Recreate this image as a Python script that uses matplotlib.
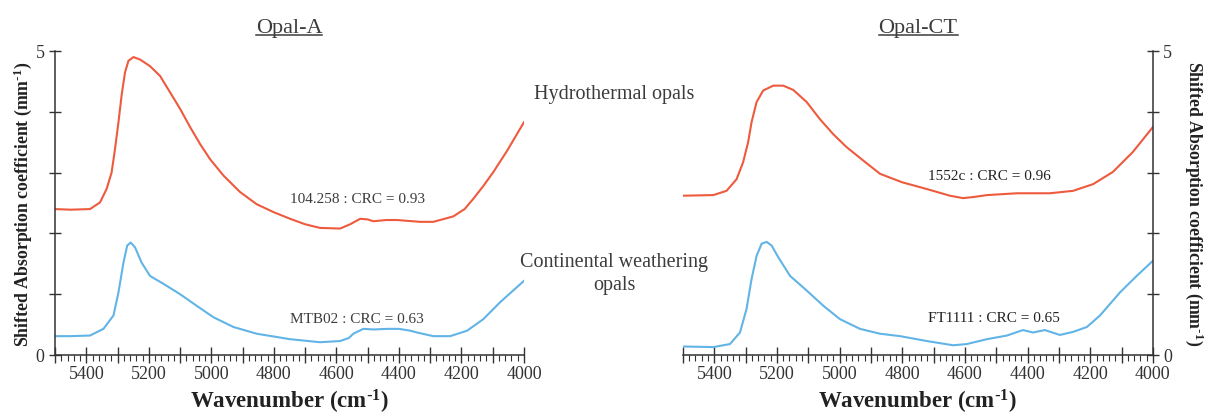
import matplotlib
matplotlib.use('Agg')
import matplotlib.pyplot as plt
from matplotlib.ticker import MultipleLocator, FuncFormatter
from matplotlib.lines import Line2D

# --- data (wavenumber in cm-1, shifted absorption in mm-1)
wn_hydro_A = [5500, 5450, 5388, 5356, 5335, 5319, 5308, 5297, 5287, 5276, 5265, 5249,
              5228, 5196, 5164, 5132, 5100, 5068, 5036, 5004, 4961, 4908, 4855, 4801,
              4748, 4700, 4652, 4588, 4556, 4524, 4500, 4482, 4440, 4406, 4332, 4290,
              4226, 4190, 4162, 4130, 4098, 4054, 4000]
abs_hydro_A = [2.40, 2.39, 2.40, 2.51, 2.73, 3.00, 3.39, 3.83, 4.27, 4.65, 4.84, 4.90,
               4.86, 4.75, 4.59, 4.32, 4.05, 3.75, 3.47, 3.22, 2.95, 2.68, 2.48, 2.35,
               2.24, 2.15, 2.09, 2.08, 2.15, 2.24, 2.23, 2.20, 2.22, 2.22, 2.19, 2.19,
               2.28, 2.40, 2.57, 2.78, 3.01, 3.36, 3.83]

wn_cont_A = [5500, 5450, 5388, 5345, 5313, 5297, 5281, 5269, 5258, 5244, 5223, 5196,
             5153, 5100, 5047, 4993, 4929, 4855, 4748, 4652, 4588, 4560, 4546, 4514,
             4480, 4438, 4400, 4364, 4342, 4290, 4236, 4182, 4130, 4076, 4000]
abs_cont_A = [0.31, 0.31, 0.32, 0.43, 0.65, 1.03, 1.52, 1.80, 1.85, 1.77, 1.52, 1.30,
              1.17, 1.00, 0.81, 0.62, 0.46, 0.35, 0.26, 0.21, 0.23, 0.28, 0.35, 0.43,
              0.42, 0.43, 0.43, 0.40, 0.37, 0.31, 0.31, 0.40, 0.59, 0.87, 1.22]

wn_hydro_CT = [5500, 5403, 5361, 5329, 5308, 5292, 5281, 5265, 5244, 5212, 5180, 5148,
               5105, 5063, 5020, 4978, 4925, 4871, 4800, 4722, 4648, 4606, 4570, 4530,
               4434, 4329, 4255, 4191, 4128, 4064, 4000]
abs_hydro_CT = [2.62, 2.63, 2.70, 2.89, 3.17, 3.50, 3.83, 4.16, 4.35, 4.43, 4.43, 4.36,
                4.16, 3.88, 3.63, 3.42, 3.20, 2.98, 2.84, 2.73, 2.62, 2.58, 2.60, 2.63,
                2.66, 2.66, 2.70, 2.81, 3.01, 3.34, 3.75]

wn_cont_CT = [5500, 5403, 5350, 5318, 5297, 5281, 5265, 5249, 5233, 5217, 5196, 5158,
              5105, 5052, 4999, 4935, 4871, 4807, 4722, 4638, 4594, 4530, 4466, 4415,
              4383, 4345, 4297, 4255, 4211, 4169, 4105, 4052, 4000]
abs_cont_CT = [0.14, 0.13, 0.18, 0.37, 0.76, 1.25, 1.63, 1.83, 1.86, 1.80, 1.61, 1.30,
               1.06, 0.81, 0.59, 0.43, 0.35, 0.31, 0.23, 0.16, 0.18, 0.26, 0.32, 0.41,
               0.37, 0.41, 0.33, 0.38, 0.46, 0.65, 1.03, 1.30, 1.55]

labels_A = ['104.258 : CRC = 0.93', 'MTB02 : CRC = 0.63']
labels_CT = ['1552c : CRC = 0.96', 'FT1111 : CRC = 0.65']

RED = '#ee5a3e'
BLUE = '#62b4e6'
GREY = '#3c3c3c'

plt.rcParams['font.family'] = ['Liberation Serif', 'DejaVu Serif']
plt.rcParams['mathtext.default'] = 'regular'

fig = plt.figure(figsize=(12.06, 4.14), dpi=100)
ax1 = fig.add_axes([0.0456, 0.1401, 0.3889, 0.7343])
ax2 = fig.add_axes([0.5663, 0.1401, 0.3897, 0.7343])

ylab = r'Shifted Absorption coefficient (mm$^{\text{-}1}$)'


def xfmt(v, pos):
    return '%d' % v if int(round(v)) % 200 == 0 else ''


def yfmt(v, pos):
    return '%d' % v if int(round(v)) in (0, 5) else ''


for ax in (ax1, ax2):
    ax.set_xlim(5500, 4000)
    ax.set_ylim(0, 5)
    ax.spines['top'].set_visible(False)
    ax.xaxis.set_major_locator(MultipleLocator(100))
    ax.xaxis.set_minor_locator(MultipleLocator(20))
    ax.xaxis.set_major_formatter(FuncFormatter(xfmt))
    ax.yaxis.set_major_locator(MultipleLocator(1))
    ax.yaxis.set_major_formatter(FuncFormatter(yfmt))
    ax.tick_params(axis='x', which='major', direction='inout', length=11, width=1,
                   labelsize=13, pad=2, colors='#333333')
    ax.tick_params(axis='x', which='minor', direction='out', length=4, width=0.8,
                   color='#333333')
    ax.tick_params(axis='y', which='major', direction='inout', length=9, width=1,
                   labelsize=13, pad=3, colors='#333333')
    for s in ax.spines.values():
        s.set_color('#333333')
        s.set_linewidth(1.1)
    ax.set_xlabel(r'Wavenumber (cm$^{\text{-}1}$)', fontsize=16.5, fontweight='bold',
                  color='#222222', labelpad=3)

ax1.spines['right'].set_visible(False)
ax2.spines['left'].set_visible(False)
ax2.yaxis.tick_right()
ax2.yaxis.set_label_position('right')

ax1.set_ylabel(ylab, fontsize=12.8, fontweight='bold', color='#222222', labelpad=1)
ax2.set_ylabel(ylab, fontsize=12.8, fontweight='bold', color='#222222',
               rotation=270, va='bottom', labelpad=8)

ax1.plot(wn_hydro_A, abs_hydro_A, color=RED, lw=1.5)
ax1.plot(wn_cont_A, abs_cont_A, color=BLUE, lw=1.5)
ax2.plot(wn_hydro_CT, abs_hydro_CT, color=RED, lw=1.5)
ax2.plot(wn_cont_CT, abs_cont_CT, color=BLUE, lw=1.5)

ax1.text(4748, 2.52, labels_A[0], fontsize=11, color=GREY, va='baseline')
ax1.text(4748, 0.54, labels_A[1], fontsize=11, color=GREY, va='baseline')
ax2.text(4718, 2.89, labels_CT[0], fontsize=11, color='#222222', va='baseline')
ax2.text(4718, 0.56, labels_CT[1], fontsize=11, color='#222222', va='baseline')

fig.text(0.5095, 0.761, 'Hydrothermal opals', fontsize=14.5, color=GREY,
         ha='center', va='baseline')
fig.text(0.5095, 0.355, 'Continental weathering', fontsize=14.5, color=GREY,
         ha='center', va='baseline')
fig.text(0.5095, 0.30, 'opals', fontsize=14.5, color=GREY,
         ha='center', va='baseline')

titles = []
titles.append(fig.text(289 / 1206, 0.921, 'Opal-A', fontsize=16, color=GREY,
                       ha='center', va='baseline'))
titles.append(fig.text(918 / 1206, 0.921, 'Opal-CT', fontsize=16, color=GREY,
                       ha='center', va='baseline'))

# underline the panel titles
fig.canvas.draw()
r = fig.canvas.get_renderer()
for t in titles:
    bb = t.get_window_extent(r).transformed(fig.transFigure.inverted())
    fig.add_artist(Line2D([bb.x0, bb.x1], [0.913, 0.913], color=GREY, lw=1.1,
                          transform=fig.transFigure))

fig.savefig('out.png', dpi=100)
